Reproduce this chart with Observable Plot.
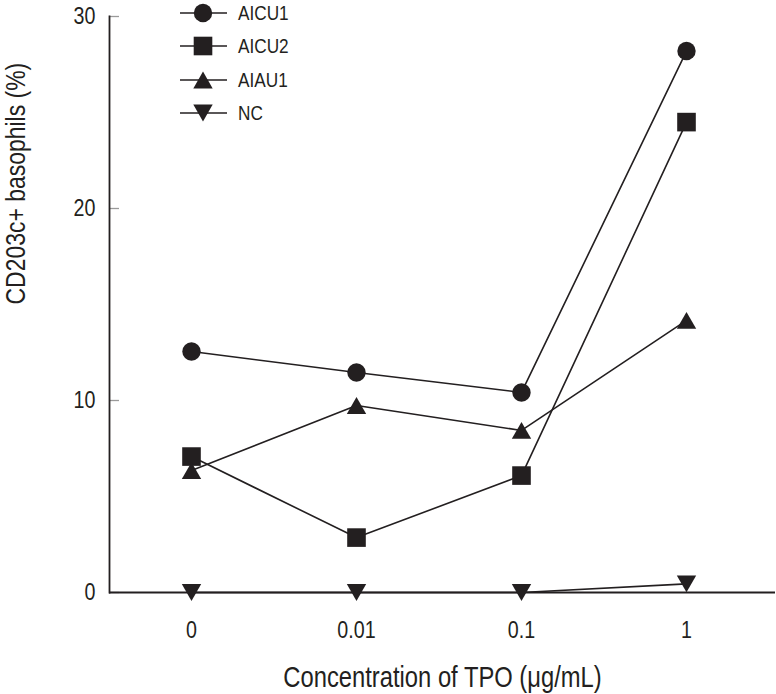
<!DOCTYPE html>
<html>
<head>
<meta charset="utf-8">
<script src="https://cdn.jsdelivr.net/npm/d3@7"></script>
<script src="https://cdn.jsdelivr.net/npm/@observablehq/plot@0.6"></script>
<style>
  html, body { margin: 0; padding: 0; background: #fff; }
  #wrap { position: relative; width: 776px; height: 694px; overflow: hidden; }
  #legend { position: absolute; left: 0; top: 0; }
</style>
</head>
<body>
<div id="wrap"></div>
<script>
// ---- data ----
const concentrations = ["0", "0.01", "0.1", "1"];
const seriesNames = ["AICU1", "AICU2", "AIAU1", "NC"];
const aicu1 = [12.55, 11.46, 10.42, 28.2];
const aicu2 = [7.08, 2.86, 6.09, 24.5];
const aiau1 = [6.35, 9.74, 8.44, 14.17];
const nc = [0, 0, 0, 0.45];
const yTicks = [0, 10, 20, 30];
const xTitle = "Concentration of TPO (μg/mL)";
const yTitle = "CD203c+ basophils (%)";

// ---- styles ----
const INK = "#231f20";
const FONT = "'Liberation Sans', Arial, sans-serif";
const CONDENSE = 0.82;
const symbolStyle = {
  AICU1: {symbol: "circle", r: 9.2, rotate: 0, dy: 0},
  AICU2: {symbol: "square", r: 10.5, rotate: 0, dy: 0},
  AIAU1: {symbol: "triangle", r: 7.2, rotate: 0, dy: 2.8},
  NC: {symbol: "triangle", r: 7.2, rotate: 180, dy: -2.8}
};

const valuesBySeries = {AICU1: aicu1, AICU2: aicu2, AIAU1: aiau1, NC: nc};
const data = seriesNames.flatMap(s => concentrations.map((c, i) => ({series: s, conc: c, value: valuesBySeries[s][i]})));

const chart = Plot.plot({
  width: 776,
  height: 694,
  marginLeft: 109,
  marginRight: 1,
  marginTop: 16,
  marginBottom: 102,
  style: {fontFamily: FONT, color: INK, background: "white", overflow: "visible"},
  x: {type: "point", domain: concentrations, padding: 0, insetLeft: 81, insetRight: 88},
  y: {domain: [0, 30]},
  marks: [
    Plot.axisY({ticks: yTicks, tickSize: -10, stroke: "#9a9a9a", strokeWidth: 1.3, tickFormat: () => "", label: null}),
    Plot.axisY({ticks: yTicks, tickSize: 0, tickPadding: 14, fontSize: 24, fontFamily: FONT, fill: INK, label: null}),
    Plot.axisX({tickSize: 0, tickPadding: 28, fontSize: 24, fontFamily: FONT, fill: INK, label: null}),
    Plot.frame({anchor: "left", stroke: INK, strokeWidth: 1.8}),
    Plot.ruleY([0], {stroke: INK, strokeWidth: 1.8}),
    Plot.line(data, {x: "conc", y: "value", z: "series", stroke: INK, strokeWidth: 1.6}),
    ...seriesNames.map(s => Plot.dot(data.filter(d => d.series === s), {
      x: "conc", y: "value",
      symbol: symbolStyle[s].symbol, r: symbolStyle[s].r, rotate: symbolStyle[s].rotate,
      dy: symbolStyle[s].dy, fill: INK, stroke: "none"
    })),
    Plot.text([xTitle], {frameAnchor: "bottom", dy: 85, fontSize: 29, fontFamily: FONT, fill: INK, lineAnchor: "middle"}),
    Plot.text([yTitle], {frameAnchor: "left", dx: -93, rotate: -90, fontSize: 28, fontFamily: FONT, fill: INK, lineAnchor: "middle"})
  ]
});

const wrap = document.getElementById("wrap");
wrap.appendChild(chart);

// ---- legend (overlay, top-left of plot area) ----
const legend = d3.select(wrap).append("svg")
  .attr("id", "legend")
  .attr("width", 320).attr("height", 140)
  .style("font-family", FONT);
const rowY = [13, 46, 80, 113];
seriesNames.forEach((s, i) => {
  const st = symbolStyle[s];
  const g = legend.append("g").attr("transform", `translate(0,${rowY[i]})`);
  g.append("line").attr("x1", 180).attr("x2", 227).attr("y1", 0).attr("y2", 0)
    .attr("stroke", INK).attr("stroke-width", 1.6);
  const typ = st.symbol === "circle" ? d3.symbolCircle : st.symbol === "square" ? d3.symbolSquare : d3.symbolTriangle;
  g.append("path")
    .attr("d", d3.symbol(typ, Math.PI * st.r * st.r)())
    .attr("transform", `translate(203,${st.dy}) rotate(${st.rotate})`)
    .attr("fill", INK);
  g.append("text").attr("x", 238).attr("y", 0).attr("dy", "0.35em")
    .attr("font-size", 21).attr("fill", INK).text(s);
});

// ---- condensed lettering (the reference uses a condensed sans) ----
function condense(root, k) {
  root.querySelectorAll("text").forEach(t => {
    const b = t.getBBox();
    const anchor = getComputedStyle(t).textAnchor;
    const ax = anchor === "end" ? b.x + b.width : anchor === "middle" ? b.x + b.width / 2 : b.x;
    const tr = t.getAttribute("transform") || "";
    t.setAttribute("transform", `${tr} translate(${ax},0) scale(${k},1) translate(${-ax},0)`);
  });
}
condense(wrap, CONDENSE);
</script>
</body>
</html>
